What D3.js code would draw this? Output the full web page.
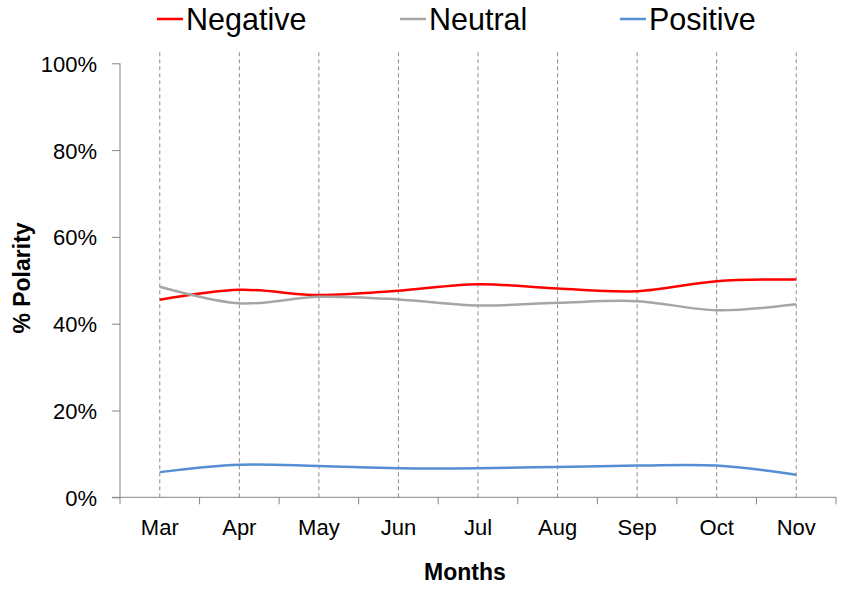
<!DOCTYPE html>
<html>
<head>
<meta charset="utf-8">
<script src="https://cdn.jsdelivr.net/npm/d3@7"></script>
<style>
  body { margin: 0; background: #fff; }
  text { font-family: "Liberation Sans", Arial, sans-serif; fill: #000; }
</style>
</head>
<body>
<div id="chart"></div>
<script>
// data
const months = ["Mar", "Apr", "May", "Jun", "Jul", "Aug", "Sep", "Oct", "Nov"];
const negative = [45.5, 47.8, 46.6, 47.6, 49.1, 48.1, 47.5, 49.8, 50.2];
const neutral  = [48.5, 44.7, 46.2, 45.6, 44.2, 44.8, 45.2, 43.1, 44.5];
const positive = [5.8, 7.5, 7.2, 6.7, 6.7, 7.0, 7.3, 7.3, 5.2];
const yTicks = [0, 20, 40, 60, 80, 100];

const seriesNames = ["Negative", "Neutral", "Positive"];
const seriesColors = ["#ff0000", "#a6a6a6", "#558ed5"];
const seriesValues = [negative, neutral, positive];

const width = 843, height = 589;
const plot = { left: 120, right: 836, top: 63.3, bottom: 497.3 };

let svg = d3.select("#chart")
    .append("svg")
    .attr("width", width)
    .attr("height", height);

// band scale for the category axis, points sit in the band centres
let x = d3.scaleBand()
    .domain(months)
    .range([plot.left, plot.right]);

let y = d3.scaleLinear()
    .domain([0, 100])
    .range([plot.bottom, plot.top]);

const axisColor = "#868686";

// vertical dashed drop lines
svg.append("g")
    .selectAll("line")
    .data(months)
    .enter()
    .append("line")
    .attr("x1", d => x(d) + x.bandwidth() / 2)
    .attr("x2", d => x(d) + x.bandwidth() / 2)
    .attr("y1", plot.top - 11)
    .attr("y2", plot.bottom)
    .attr("stroke", "#8c8c8c")
    .attr("stroke-width", 1)
    .attr("stroke-dasharray", "4,3");

// y axis
let yAxis = svg.append("g")
    .attr("transform", `translate(${plot.left},0)`)
    .call(d3.axisLeft(y).tickValues(yTicks).tickFormat(d => d + "%").tickSize(8).tickPadding(15));
yAxis.select(".domain").attr("stroke", axisColor).attr("d", `M0,${plot.top}V${plot.bottom}`);
yAxis.selectAll(".tick line").attr("stroke", axisColor);
yAxis.selectAll(".tick text")
    .style("font-size", "22px")
    .attr("fill", "#000")
    .attr("dy", "0.36em");

// x axis: ticks at the band edges
let xEdges = d3.range(months.length + 1).map(i => plot.left + i * x.step());
let xAxis = svg.append("g");
xAxis.append("line")
    .attr("x1", plot.left - 8)
    .attr("x2", plot.right)
    .attr("y1", plot.bottom)
    .attr("y2", plot.bottom)
    .attr("stroke", axisColor);
xAxis.selectAll(".xtick")
    .data(xEdges)
    .enter()
    .append("line")
    .attr("x1", d => d)
    .attr("x2", d => d)
    .attr("y1", plot.bottom)
    .attr("y2", plot.bottom + 7)
    .attr("stroke", axisColor);
xAxis.selectAll(".xlabel")
    .data(months)
    .enter()
    .append("text")
    .attr("x", d => x(d) + x.bandwidth() / 2)
    .attr("y", plot.bottom + 38)
    .style("text-anchor", "middle")
    .style("font-size", "22px")
    .text(d => d);

// smoothed series lines
let line = d3.line()
    .x((d, i) => x(months[i]) + x.bandwidth() / 2)
    .y(d => y(d))
    .curve(d3.curveCatmullRom.alpha(0.5));

svg.append("g")
    .selectAll("path")
    .data(seriesValues)
    .enter()
    .append("path")
    .attr("d", d => line(d))
    .attr("fill", "none")
    .attr("stroke", (d, i) => seriesColors[i])
    .attr("stroke-width", 2.5);

// legend
const legendX = [157, 400, 620];
let legend = svg.append("g")
    .selectAll("g")
    .data(seriesNames)
    .enter()
    .append("g")
    .attr("transform", (d, i) => `translate(${legendX[i]},0)`);
legend.append("line")
    .attr("x1", 0).attr("x2", 26)
    .attr("y1", 19).attr("y2", 19)
    .attr("stroke", (d, i) => seriesColors[i])
    .attr("stroke-width", 2.5);
legend.append("text")
    .attr("x", 29)
    .attr("y", 30)
    .style("font-size", "30.5px")
    .text(d => d);

// axis titles
svg.append("text")
    .attr("x", (plot.left + plot.right) / 2 - 13)
    .attr("y", 580)
    .style("text-anchor", "middle")
    .style("font-size", "23px")
    .style("font-weight", "bold")
    .text("Months");

svg.append("text")
    .attr("transform", `translate(30,${278}) rotate(-90)`)
    .style("text-anchor", "middle")
    .style("font-size", "23px")
    .style("font-weight", "bold")
    .text("% Polarity");
</script>
</body>
</html>
